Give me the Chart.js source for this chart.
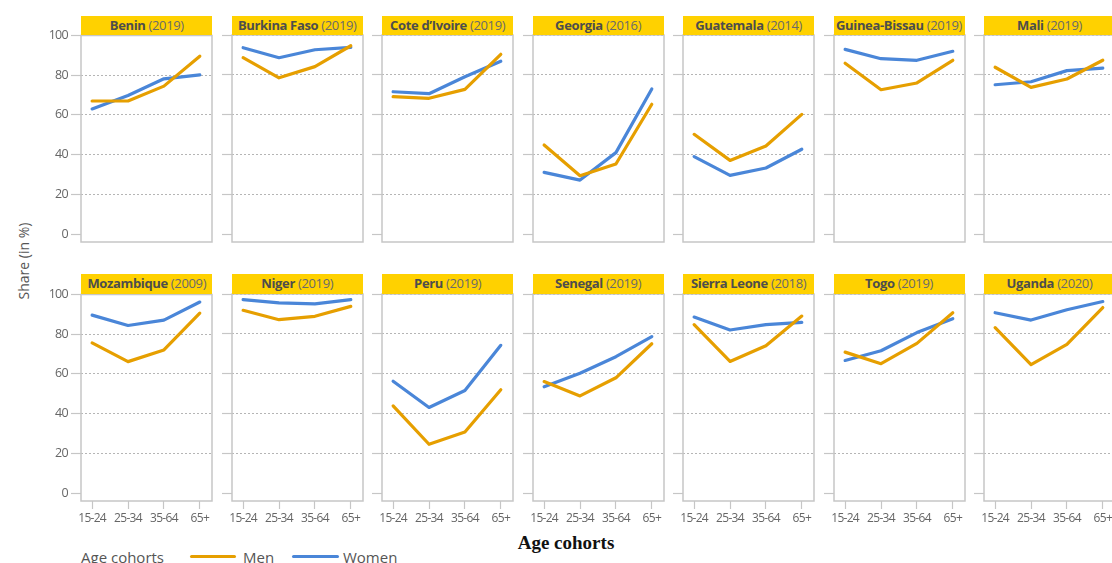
<!DOCTYPE html>
<html><head><meta charset="utf-8">
<script src="https://cdn.jsdelivr.net/npm/chart.js@4"></script>
<style>
html,body{margin:0;padding:0;background:#fff;}
body{width:1112px;height:563px;overflow:hidden;position:relative;font-family:'Open Sans',sans-serif;}
canvas.pc{position:absolute;}
.hdr{position:absolute;background:#FFD100;color:#6a6a6a;font-size:13px;letter-spacing:-0.35px;text-align:center;white-space:nowrap;overflow:hidden;}
.hdr b{color:#4d4d4d;font-weight:700;}
.ytitle{position:absolute;left:23px;top:261px;transform:translate(-50%,-50%) rotate(-90deg);font-size:14px;color:#555;white-space:nowrap;}
.xtitle{position:absolute;left:566px;top:543px;transform:translate(-50%,-50%);font-family:'Liberation Serif',serif;font-weight:700;font-size:19px;color:#111;white-space:nowrap;}
.leg{position:absolute;top:557px;transform:translateY(-50%);font-size:15px;color:#555;white-space:nowrap;}
.legline{position:absolute;top:555px;height:3px;border-radius:1.5px;}
</style></head><body>
<div class="ytitle">Share (in %)</div>
<div class="xtitle">Age cohorts</div>
<div class="leg" style="left:81px">Age cohorts</div>
<div class="legline" style="left:190px;width:46px;background:#E69F00"></div>
<div class="leg" style="left:243px">Men</div>
<div class="legline" style="left:292px;width:47px;background:#4A86D8"></div>
<div class="leg" style="left:343px">Women</div>
<script>
const ageCohorts = ['15-24', '25-34', '35-64', '65+'];
const countries = ['Benin', 'Burkina Faso', 'Cote d\u2019Ivoire', 'Georgia', 'Guatemala', 'Guinea-Bissau', 'Mali',
  'Mozambique', 'Niger', 'Peru', 'Senegal', 'Sierra Leone', 'Togo', 'Uganda'];
const surveyYears = ['2019', '2019', '2019', '2016', '2014', '2019', '2019',
  '2009', '2019', '2019', '2019', '2018', '2019', '2020'];
const menShare = [
  [67.0, 67.0, 74.5, 89.6],
  [88.6, 78.5, 84.1, 94.6],
  [69.0, 68.2, 72.7, 90.3],
  [44.7, 29.3, 35.2, 65.2],
  [50.1, 37.0, 44.2, 60.1],
  [85.8, 72.5, 75.9, 87.3],
  [83.8, 73.7, 77.9, 87.3],
  [75.6, 66.2, 72.1, 90.6],
  [91.8, 87.1, 88.8, 93.8],
  [43.8, 24.5, 30.7, 51.9],
  [56.0, 48.8, 57.9, 75.0],
  [84.6, 66.1, 74.0, 88.9],
  [70.8, 65.0, 75.2, 90.6],
  [83.1, 64.5, 74.7, 93.2]
];
const womenShare = [
  [63.0, 69.8, 78.2, 80.2],
  [93.6, 88.6, 92.6, 93.8],
  [71.5, 70.5, 79.0, 86.8],
  [31.0, 27.1, 40.9, 72.9],
  [38.9, 29.5, 33.2, 42.6],
  [92.8, 88.1, 87.3, 91.8],
  [75.0, 76.5, 82.1, 83.4],
  [89.6, 84.4, 87.1, 96.2],
  [97.2, 95.5, 95.0, 97.2],
  [56.2, 43.0, 51.5, 74.2],
  [53.4, 60.2, 68.5, 78.6],
  [88.4, 81.9, 84.6, 85.7],
  [66.6, 71.5, 80.6, 87.6],
  [90.6, 86.9, 92.1, 96.2]
];
const yTickValues = [0, 20, 40, 60, 80, 100];

const MEN_COLOR = '#E69F00', WOMEN_COLOR = '#4A86D8';
const COLS = 7, PLOT_W = 131, PLOT_H = 207, AXIS_W = 40, PAD_T = 10, PAD_R = 8, PAD_B = 12;
const rowTops = [35, 293.7];
const colLeft = c => 81.3 + 150.45 * c;

const boxPlugin = {
  id: 'box',
  beforeDraw(chart) { chart.ctx.letterSpacing = '-0.7px'; },
  beforeDatasetsDraw(chart) {
    const {ctx, chartArea: a} = chart;
    ctx.save();
    ctx.strokeStyle = '#c6c6c6';
    ctx.lineWidth = 1.5;
    ctx.strokeRect(a.left, a.top, a.width, a.height);
    ctx.restore();
  }
};

countries.forEach((name, i) => {
  const r = Math.floor(i / COLS), c = i % COLS;
  const L = colLeft(c), T = rowTops[r];
  const bottomRow = r === 1;
  const cv = document.createElement('canvas');
  cv.className = 'pc';
  const cw = AXIS_W + PLOT_W + PAD_R;
  const ch = PAD_T + PLOT_H + (bottomRow ? 30 : 0) + PAD_B;
  cv.width = cw; cv.height = ch;
  cv.style.width = cw + 'px'; cv.style.height = ch + 'px';
  cv.style.left = (L - AXIS_W) + 'px';
  cv.style.top = (T - PAD_T) + 'px';
  document.body.appendChild(cv);

  const hdr = document.createElement('div');
  hdr.className = 'hdr';
  hdr.style.left = L + 'px';
  hdr.style.top = (T - 19.3) + 'px';
  hdr.style.width = PLOT_W + 'px';
  hdr.style.height = '19.3px';
  hdr.style.lineHeight = '19.3px';
  const b = document.createElement('b');
  b.textContent = name;
  hdr.appendChild(b);
  hdr.appendChild(document.createTextNode(' (' + surveyYears[i] + ')'));
  document.body.appendChild(hdr);

  new Chart(cv, {
    type: 'line',
    data: {
      datasets: [
        {label: 'Men', data: menShare[i].map((v, k) => ({x: k, y: v})), borderColor: MEN_COLOR, backgroundColor: MEN_COLOR},
        {label: 'Women', data: womenShare[i].map((v, k) => ({x: k, y: v})), borderColor: WOMEN_COLOR, backgroundColor: WOMEN_COLOR}
      ]
    },
    options: {
      responsive: false,
      animation: false,
      devicePixelRatio: 1,
      layout: {padding: {top: PAD_T, right: PAD_R, left: 0, bottom: PAD_B}},
      elements: {line: {borderWidth: 3.2, tension: 0, borderCapStyle: 'round', borderJoinStyle: 'round'}, point: {radius: 0}},
      plugins: {legend: {display: false}, tooltip: {enabled: false}, title: {display: false}},
      scales: {
        x: {
          type: 'linear', min: -0.31, max: 3.34,
          display: bottomRow,
          afterBuildTicks: s => { s.ticks = ageCohorts.map((_, k) => ({value: k})); },
          afterFit: s => { s.height = bottomRow ? 30 : 0; },
          ticks: {callback: v => ageCohorts[v], color: '#666', font: {family: "'Open Sans', sans-serif", size: 12}, padding: 2, maxRotation: 0, autoSkip: false},
          grid: {drawOnChartArea: false, drawTicks: true, tickLength: 8, tickColor: '#c6c6c6', tickWidth: 1.2},
          border: {display: false}
        },
        y: {
          min: -4, max: 100,
          afterBuildTicks: s => { s.ticks = yTickValues.map(v => ({value: v})); },
          afterFit: s => { s.width = AXIS_W; },
          ticks: {display: c === 0, color: '#666', font: {family: "'Open Sans', sans-serif", size: 12.5}, padding: 3},
          grid: {
            color: ctx => (ctx.tick && ctx.tick.value === 0) ? 'rgba(0,0,0,0)' : '#b5b5b5',
            lineWidth: 1, tickLength: 10, tickColor: '#c6c6c6', tickWidth: 1.2, tickBorderDash: []
          },
          border: {display: false, dash: [2, 2]}
        }
      }
    },
    plugins: [boxPlugin]
  });
});
</script>
</body></html>
